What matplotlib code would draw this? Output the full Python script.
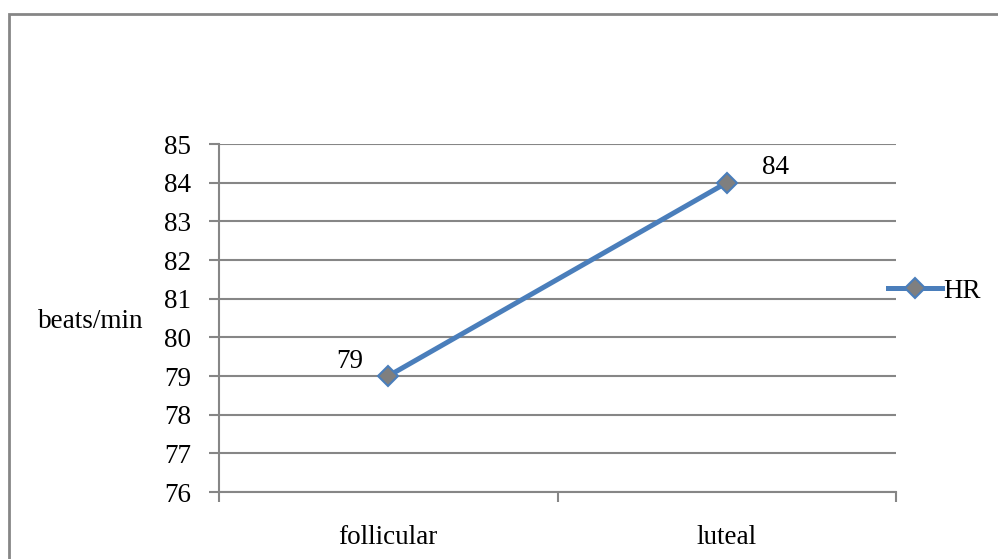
import matplotlib.pyplot as plt
from matplotlib.lines import Line2D
from matplotlib.patches import Rectangle

phases = ['follicular', 'luteal']
hr = [79, 84]
y_ticks = list(range(76, 86))

blue = '#4a7ebb'
grey = '#868686'
fs = 19.5

plt.rcParams['font.family'] = ['Liberation Serif', 'DejaVu Serif']

fig = plt.figure(figsize=(9.98, 5.59), dpi=100)
W, H = 998, 559
ax = fig.add_axes([219 / W, 1 - 492 / H, (896 - 219) / W, (492 - 144) / H])

# outer chart frame
fig.patches.append(Rectangle((9 / W, -0.1), 1.2, 1 - 14 / H + 0.1,
                             transform=fig.transFigure, fill=False,
                             edgecolor=grey, linewidth=2))

x = [0.5, 1.5]
ax.plot(x, hr, color=blue, linewidth=3.6, marker='D', markersize=10.5,
        markerfacecolor='#7f7f7f', markeredgecolor=blue, markeredgewidth=1.5,
        solid_capstyle='round', zorder=3, clip_on=False)

ax.annotate(str(hr[0]), (x[0], hr[0]), xytext=(-39, 15), textcoords='offset pixels',
            ha='center', va='center', fontsize=fs)
ax.annotate(str(hr[1]), (x[1], hr[1]), xytext=(49, 15), textcoords='offset pixels',
            ha='center', va='center', fontsize=fs)

ax.set_xlim(0, 2)
ax.set_ylim(76, 85)
ax.set_yticks(y_ticks)
ax.set_yticklabels([str(v) for v in y_ticks], fontsize=fs)
ax.set_xticks([0, 1, 2])
ax.set_xticks(x, minor=True)
ax.set_xticklabels(['', '', ''])
ax.set_xticklabels(phases, minor=True, fontsize=fs)
ax.tick_params(axis='x', which='minor', length=0, pad=24)
ax.tick_params(axis='x', which='major', length=7, width=1.5, color=grey, direction='out')
ax.tick_params(axis='y', length=7, width=1.5, color=grey, direction='out', pad=13)

ax.grid(axis='y', color=grey, linewidth=1.5)
ax.set_axisbelow(True)
for side in ['top', 'right']:
    ax.spines[side].set_visible(False)
for side in ['left', 'bottom']:
    ax.spines[side].set_color(grey)
    ax.spines[side].set_linewidth(1.5)

fig.text(91 / W, 1 - 322 / H, 'beats/min', ha='center', va='center', fontsize=fs)

handle = Line2D([], [], color=blue, linewidth=3.6, marker='D', markersize=10.5,
                markerfacecolor='#7f7f7f', markeredgecolor=blue, markeredgewidth=1.5)
fig.legend([handle], ['HR'], loc='center left', bbox_to_anchor=(888 / W, 1 - 291 / H),
           frameon=False, fontsize=fs, handlelength=2.0, handletextpad=0.05,
           borderaxespad=0, borderpad=0)

fig.savefig('out.png', dpi=100)
